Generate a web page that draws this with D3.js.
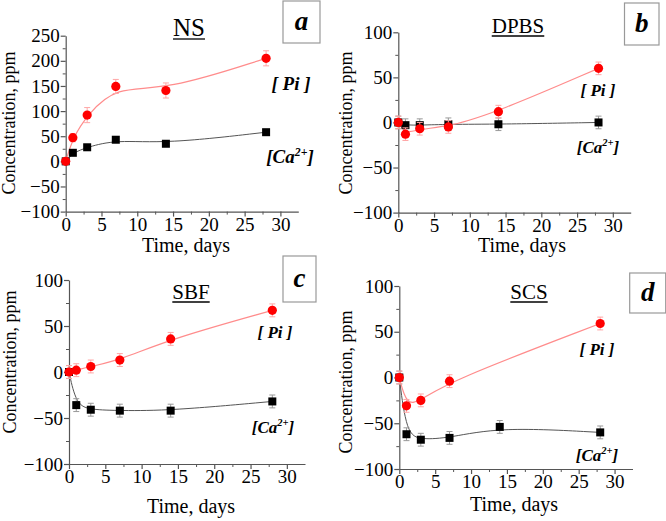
<!DOCTYPE html>
<html><head><meta charset="utf-8">
<script src="https://cdn.jsdelivr.net/npm/d3@7"></script>
<style>
body{margin:0;background:#fff;}
svg{display:block;}
svg text{font-family:'Liberation Serif', 'Times New Roman', Times, serif !important;}
</style></head>
<body><svg id="c" width="666" height="521"></svg>
<script>
// ---- data ----
const days = [0, 1, 3, 7, 14, 28];
const scsPiDays = [0, 1, 3, 7, 28];
const xTicks = [0, 5, 10, 15, 20, 25, 30];
const yTicksNS = [-100, -50, 0, 50, 100, 150, 200, 250];
const yTicksOther = [-100, -50, 0, 50, 100];

const nsPi = [0, 47, 92, 149, 141, 205];
const nsPiErr = [6, 8, 15, 14, 15, 15];
const nsCa = [0, 17, 28, 43, 35, 58];
const nsCaErr = [4, 5, 5, 5, 5, 5];

const dpbsPi = [0, -13, -7, -5, 12, 60];
const dpbsPiErr = [7, 7, 7, 7, 7, 7];
const dpbsCa = [0, -3, -3, -2, -2, 0];
const dpbsCaErr = [7, 7, 7, 7, 7, 7];

const sbfPi = [0, 2, 6, 13, 36, 67];
const sbfPiErr = [7, 7, 7, 7, 7, 7];
const sbfCa = [0, -36, -41, -42, -42, -32];
const sbfCaErr = [7, 7, 7, 7, 7, 7];

const scsPi = [0, -31, -25, -4, 59];
const scsPiErr = [7, 7, 7, 7, 7];
const scsCa = [0, -62, -68, -66, -54, -60];
const scsCaErr = [7, 7, 7, 7, 7, 7];

const titles = ["NS", "DPBS", "SBF", "SCS"];
const letters = ["a", "b", "c", "d"];

// ---- layout ----
const panels = [
  {title: titles[0], letter: letters[0], l: 65.7, r: 298.3, t: 35.7, b: 211.6, yd: [-100, 250], yt: yTicksNS,
   pi: {x: days, y: nsPi, e: nsPiErr}, ca: {x: days, y: nsCa, e: nsCaErr},
   titleX: 189, titleY: 36, titleSize: 25,
   box: [283, 1, 37, 42], piLab: [291, 90, 19], caLab: [290, 163, 19], yLab: [15, 123], xLab: [186, 252]},
  {title: titles[1], letter: letters[1], l: 398.3, r: 630.7, t: 32.3, b: 212.6, yd: [-100, 100], yt: yTicksOther,
   pi: {x: days, y: dpbsPi, e: dpbsPiErr}, ca: {x: days, y: dpbsCa, e: dpbsCaErr},
   titleX: 518, titleY: 33, titleSize: 21,
   box: [624.5, 3, 34.5, 42], piLab: [598, 96, 17], caLab: [598, 153, 17], yLab: [352, 123], xLab: [522, 252]},
  {title: titles[2], letter: letters[2], l: 69, r: 305, t: 280, b: 464, yd: [-100, 100], yt: yTicksOther,
   pi: {x: days, y: sbfPi, e: sbfPiErr}, ca: {x: days, y: sbfCa, e: sbfCaErr},
   titleX: 191, titleY: 299, titleSize: 21,
   box: [283, 256, 33, 46], piLab: [275, 338, 17], caLab: [273, 433, 17], yLab: [16, 362], xLab: [191, 513]},
  {title: titles[3], letter: letters[3], l: 399.3, r: 632.5, t: 286, b: 469, yd: [-100, 100], yt: yTicksOther,
   pi: {x: scsPiDays, y: scsPi, e: scsPiErr}, ca: {x: days, y: scsCa, e: scsCaErr},
   titleX: 529, titleY: 299, titleSize: 21,
   box: [629.7, 273, 36, 40], piLab: [597, 355, 17], caLab: [597, 461, 17], yLab: [352, 382], xLab: [514, 511]}
];

const FONT = "'Liberation Serif', 'Times New Roman', Times, serif";
const svg = d3.select("#c").style("font-family", FONT);
const axisColor = "#555";

function txt(sel) { return sel.style("font-family", FONT).attr("fill", "#000"); }

panels.forEach(p => {
  const x = d3.scaleLinear().domain([0, 32.5]).range([p.l, p.r]);
  const y = d3.scaleLinear().domain(p.yd).range([p.b, p.t]);
  const g = svg.append("g");

  // minor ticks
  const xMinor = d3.range(2.5, 32.5, 5);
  g.append("g").attr("transform", `translate(0,${p.b})`)
    .call(d3.axisBottom(x).tickValues(xMinor).tickSize(3).tickFormat(""))
    .call(a => a.select(".domain").remove())
    .call(a => a.selectAll("line").attr("stroke", axisColor));
  const yMinor = d3.range(p.yd[0] + 25, p.yd[1], 50);
  g.append("g").attr("transform", `translate(${p.l},0)`)
    .call(d3.axisLeft(y).tickValues(yMinor).tickSize(3).tickFormat(""))
    .call(a => a.select(".domain").remove())
    .call(a => a.selectAll("line").attr("stroke", axisColor));

  // major axes
  const xa = g.append("g").attr("transform", `translate(0,${p.b})`)
    .call(d3.axisBottom(x).tickValues(xTicks).tickSize(5).tickSizeOuter(0).tickPadding(1));
  const ya = g.append("g").attr("transform", `translate(${p.l},0)`)
    .call(d3.axisLeft(y).tickValues(p.yt).tickSize(5).tickSizeOuter(0).tickPadding(1));
  [xa, ya].forEach(a => {
    a.attr("font-family", null);
    a.select(".domain").attr("stroke", axisColor).attr("stroke-width", 1.2);
    a.selectAll("line").attr("stroke", axisColor).attr("stroke-width", 1.2);
    a.selectAll("text").attr("font-size", 19).call(txt);
  });

  // fit curves
  const lineGen = d3.line().x(d => x(d[0])).y(d => y(d[1])).curve(d3.curveBasis);
  const caPts = p.ca.x.map((d, i) => [d, p.ca.y[i]]);
  const piPts = p.pi.x.map((d, i) => [d, p.pi.y[i]]);
  g.append("path").attr("d", lineGen(caPts)).attr("fill", "none").attr("stroke", "#555").attr("stroke-width", 1);
  g.append("path").attr("d", lineGen(piPts)).attr("fill", "none").attr("stroke", "#ff8c8c").attr("stroke-width", 1.2);

  // error bars + markers
  function drawSeries(s, color, ecolor, shape) {
    const eg = g.append("g").attr("stroke", ecolor).attr("stroke-width", 1);
    s.x.forEach((d, i) => {
      const cx = x(d), y1 = y(s.y[i] - s.e[i]), y2 = y(s.y[i] + s.e[i]);
      eg.append("line").attr("x1", cx).attr("x2", cx).attr("y1", y1).attr("y2", y2);
      eg.append("line").attr("x1", cx - 3).attr("x2", cx + 3).attr("y1", y1).attr("y2", y1);
      eg.append("line").attr("x1", cx - 3).attr("x2", cx + 3).attr("y1", y2).attr("y2", y2);
    });
    s.x.forEach((d, i) => {
      if (shape === "circle") {
        g.append("circle").attr("cx", x(d)).attr("cy", y(s.y[i])).attr("r", 4.6).attr("fill", color);
      } else {
        g.append("rect").attr("x", x(d) - 4).attr("y", y(s.y[i]) - 4).attr("width", 8).attr("height", 8).attr("fill", color);
      }
    });
  }
  drawSeries(p.ca, "#000", "#999", "rect");
  drawSeries(p.pi, "#ff0000", "#ffa6a6", "circle");

  // title underlined
  const tt = g.append("text").attr("x", p.titleX).attr("y", p.titleY).attr("text-anchor", "middle")
    .attr("font-size", p.titleSize).call(txt).text(p.title);
  const w = tt.node().getComputedTextLength();
  g.append("line").attr("x1", p.titleX - w / 2).attr("x2", p.titleX + w / 2)
    .attr("y1", p.titleY + 3).attr("y2", p.titleY + 3).attr("stroke", "#000").attr("stroke-width", 1.3);

  // letter box
  g.append("rect").attr("x", p.box[0]).attr("y", p.box[1]).attr("width", p.box[2]).attr("height", p.box[3])
    .attr("fill", "#fff").attr("stroke", "#999").attr("stroke-width", 1.2);
  g.append("text").attr("x", p.box[0] + p.box[2] / 2).attr("y", p.box[1] + p.box[3] / 2 + 8)
    .attr("text-anchor", "middle").attr("font-size", 27).attr("font-style", "italic").attr("font-weight", "bold")
    .call(txt).text(p.letter);

  // series labels
  g.append("text").attr("x", p.piLab[0]).attr("y", p.piLab[1]).attr("text-anchor", "middle")
    .attr("font-size", p.piLab[2]).attr("font-style", "italic").attr("font-weight", "bold")
    .attr("xml:space", "preserve").call(txt).text("[ Pi ]");
  const ct = g.append("text").attr("x", p.caLab[0]).attr("y", p.caLab[1]).attr("text-anchor", "middle")
    .attr("font-size", p.caLab[2]).attr("font-style", "italic").attr("font-weight", "bold").call(txt);
  ct.append("tspan").text("[Ca");
  ct.append("tspan").attr("dy", -7).attr("font-size", p.caLab[2] * 0.62).text("2+");
  ct.append("tspan").attr("dy", 7).text("]");

  // axis labels
  g.append("text").attr("transform", `translate(${p.yLab[0]},${p.yLab[1]}) rotate(-90)`)
    .attr("text-anchor", "middle").attr("font-size", 18).call(txt).text("Concentration, ppm");
  g.append("text").attr("x", p.xLab[0]).attr("y", p.xLab[1]).attr("text-anchor", "middle")
    .attr("font-size", 20).call(txt).text("Time, days");
});
</script>
</body></html>
